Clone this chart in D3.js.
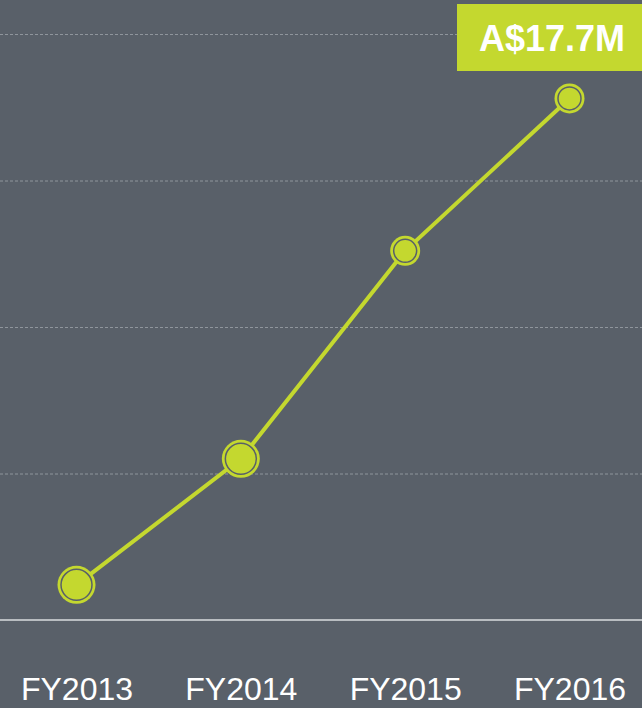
<!DOCTYPE html>
<html>
<head>
<meta charset="utf-8">
<script src="https://cdn.jsdelivr.net/npm/d3@7"></script>
<style>
  html, body { margin: 0; padding: 0; background: #596069; }
  svg { display: block; }
</style>
</head>
<body>
<svg id="chart" width="642" height="708"></svg>
<script>
const categories = ["FY2013", "FY2014", "FY2015", "FY2016"];
const revenue = [1.2, 5.5, 12.6, 17.8];
const yTicks = [5, 10, 15, 20];
const calloutLabel = "A$17.7M";

const W = 642, H = 708;
const bg = "#596069", lime = "#c4d82f";
const svg = d3.select("#chart");
svg.append("rect").attr("width", W).attr("height", H).attr("fill", bg);

const x = d3.scalePoint().domain(categories).range([76.5, 569.5]);
const y = d3.scaleLinear().domain([0, 20]).range([620, 34]);

// gridlines
svg.append("g").selectAll("line").data(yTicks).join("line")
  .attr("x1", 0).attr("x2", W)
  .attr("y1", d => y(d) + 0.5).attr("y2", d => y(d) + 0.5)
  .attr("stroke", "#8f959c").attr("stroke-width", 1)
  .attr("stroke-dasharray", "3,2");

// baseline
svg.append("line").attr("x1", 0).attr("x2", W)
  .attr("y1", y(0)).attr("y2", y(0))
  .attr("stroke", "#b9bdc1").attr("stroke-width", 2);

// x axis labels
const xAxis = d3.axisBottom(x).tickSize(0).tickPadding(0);
const gx = svg.append("g").attr("transform", `translate(0,${y(0)})`).call(xAxis);
gx.select(".domain").remove();
gx.selectAll("text")
  .attr("y", 80).attr("dy", null)
  .attr("fill", "#ffffff")
  .style("font-family", "Liberation Sans, Arial, sans-serif")
  .style("font-size", "32px");

// line
const pts = categories.map((c, i) => ({ c, v: revenue[i], i }));
svg.append("path").datum(pts)
  .attr("d", d3.line().x(d => x(d.c)).y(d => y(d.v)))
  .attr("fill", "none").attr("stroke", lime).attr("stroke-width", 4);

// markers
const g = svg.append("g").selectAll("g").data(pts).join("g")
  .attr("transform", d => `translate(${x(d.c)},${y(d.v)})`);
g.append("circle").attr("r", d => d.i < 2 ? 19 : 15).attr("fill", lime);
g.append("circle").attr("r", d => d.i < 2 ? 15.5 : 11.5)
  .attr("fill", lime).attr("stroke", bg).attr("stroke-width", 1.5);

// callout box
const cb = svg.append("g");
cb.append("rect").attr("x", 457).attr("y", 4).attr("width", W - 457).attr("height", 67)
  .attr("fill", lime);
cb.append("text").attr("x", 552).attr("y", 51)
  .attr("text-anchor", "middle").attr("fill", "#ffffff")
  .style("font-family", "Liberation Sans, Arial, sans-serif")
  .style("font-weight", "bold").style("font-size", "36px")
  .text(calloutLabel);
</script>
</body>
</html>
